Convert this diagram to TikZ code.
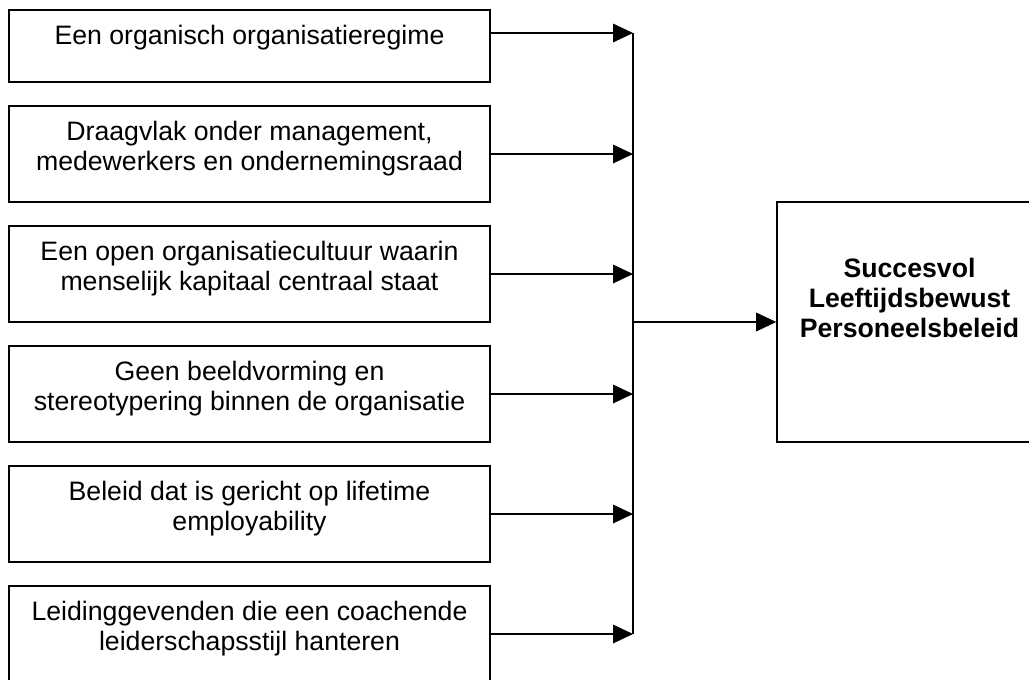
\documentclass[tikz,border=0pt]{standalone}
\usepackage{fontspec}
\setmainfont{Liberation Sans}
\usetikzlibrary{arrows.meta}
\begin{document}
\begin{tikzpicture}[x=0.75pt, y=-0.75pt,
  factor/.style={draw=black, line width=1.2pt, rectangle, minimum width=360.75pt,
    minimum height=72pt, inner sep=0pt},
  factortext/.style={anchor=north, inner sep=0pt, align=center,
    font=\fontsize{20}{22.5}\selectfont},
  goal/.style={draw=black, line width=1.2pt, rectangle, minimum width=198.75pt,
    minimum height=180pt, inner sep=0pt},
  goaltext/.style={anchor=north, inner sep=0pt, align=center,
    font=\fontsize{20}{22.5}\selectfont\bfseries},
  feed/.style={line width=0.9pt, -{Triangle[length=15pt, width=14pt]}}
]
\useasboundingbox (0,0) rectangle (1029,679);
\clip (0,0) rectangle (1029,679);

% factor boxes on the left
\node[factor, minimum height=54pt] (b1) at (249.5,46) {};
\node[factor] (b2) at (249.5,154) {};
\node[factor] (b3) at (249.5,274) {};
\node[factor] (b4) at (249.5,394) {};
\node[factor] (b5) at (249.5,514) {};
\node[factor] (b6) at (249.5,634) {};

\node[factortext] (t1) at ([yshift=-12pt]b1.north) {Een organisch organisatieregime};
\node[factortext] (t2) at ([yshift=-12pt]b2.north) {Draagvlak onder management,\\medewerkers en ondernemingsraad};
\node[factortext] (t3) at ([yshift=-12pt]b3.north) {Een open organisatiecultuur waarin\\menselijk kapitaal centraal staat};
\node[factortext] (t4) at ([yshift=-12pt]b4.north) {Geen beeldvorming en\\stereotypering binnen de organisatie};
\node[factortext] (t5) at ([yshift=-12pt]b5.north) {Beleid dat is gericht op lifetime\\employability};
\node[factortext] (t6) at ([yshift=-12pt]b6.north) {Leidinggevenden die een coachende\\leiderschapsstijl hanteren};

% outcome box on the right
\node[goal] (res) at (909.5,322) {};
\node[goaltext] (rt) at (909.5,258) {Succesvol\\Leeftijdsbewust\\Personeelsbeleid};

% collecting bus
\coordinate (bustop) at (633,33);
\coordinate (busbot) at (633,634);
\draw[line width=0.9pt] (bustop) -- (busbot);

\draw[feed] (b1.east |- bustop) -- (bustop);
\draw[feed] (b2.east) -- (b2.east -| bustop);
\draw[feed] (b3.east) -- (b3.east -| bustop);
\draw[feed] (b4.east) -- (b4.east -| bustop);
\draw[feed] (b5.east) -- (b5.east -| bustop);
\draw[feed] (b6.east) -- (busbot);

\draw[feed] (res.west -| bustop) -- (res.west);
\end{tikzpicture}
\end{document}
